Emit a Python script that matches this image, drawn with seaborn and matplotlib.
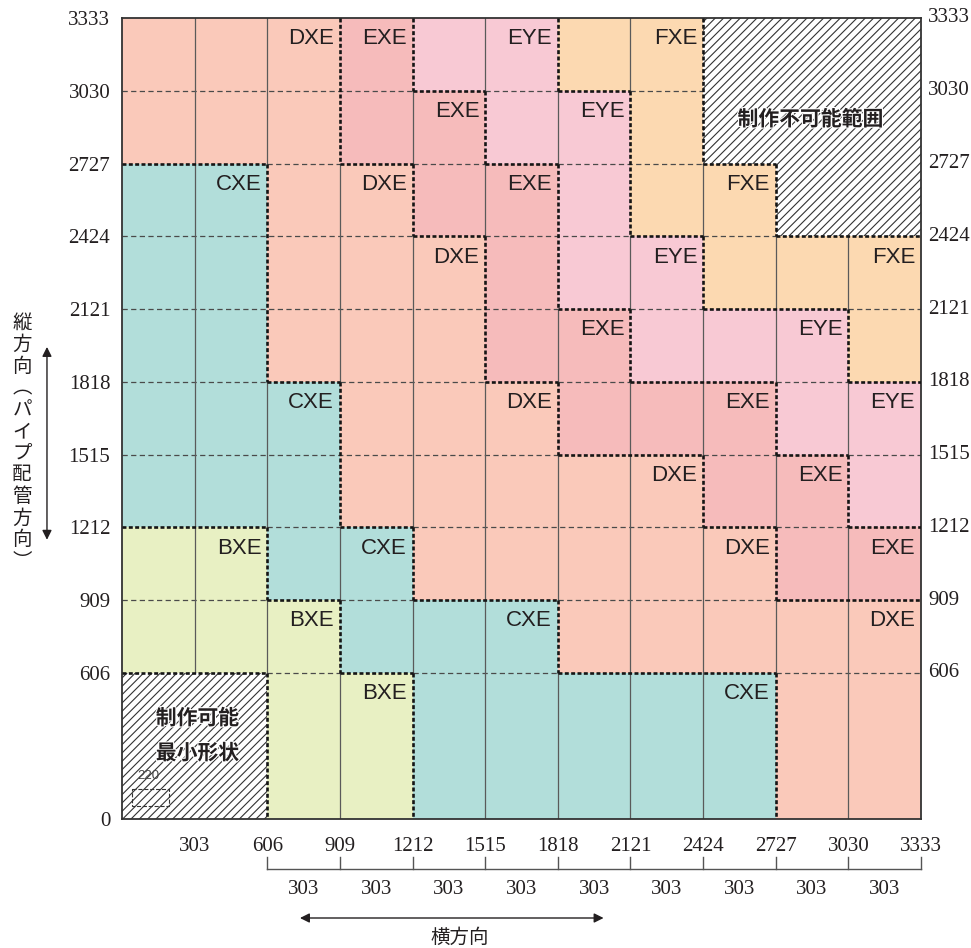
import numpy as np
import pandas as pd
import matplotlib
matplotlib.use('Agg')
import matplotlib.pyplot as plt
import matplotlib.patheffects as pe
from matplotlib.colors import ListedColormap
from matplotlib.patches import Rectangle
import seaborn as sns

# tick values (mm) along the bottom and the sides
x_ticks = [303, 606, 909, 1212, 1515, 1818, 2121, 2424, 2727, 3030, 3333]
y_ticks = [0, 606, 909, 1212, 1515, 1818, 2121, 2424, 2727, 3030, 3333]

# size chart, top band first, one letter per 303 mm column
# B=BXE C=CXE D=DXE E=EXE Y=EYE F=FXE X=cannot be made
grid_rows = [
    "DDDEYYFFXXX",   # 3030-3333
    "DDDEEYYFXXX",   # 2727-3030
    "CCDDEEYFFXX",   # 2424-2727
    "CCDDDEYYFFF",   # 2121-2424
    "CCDDDEEYYYF",   # 1818-2121
    "CCCDDDEEEYY",   # 1515-1818
    "CCCDDDDDEEY",   # 1212-1515
    "BBCCDDDDDEE",   # 909-1212
    "BBBCCCDDDDD",   # 606-909
    "XXBBCCCCCDD",   # 0-606
]

type_codes = ['B', 'C', 'D', 'E', 'Y', 'F', 'X']
type_names = ['BXE', 'CXE', 'DXE', 'EXE', 'EYE', 'FXE', '']
type_colors = ['#E8F0C3', '#B2DEDA', '#FAC9BA', '#F6BBBB', '#F8C9D4', '#FCD9B1', '#FFFFFF']

step = 303
y_top = y_ticks[-1]

plt.rcParams['font.family'] = ['Liberation Serif', 'Noto Sans CJK JP']
plt.rcParams['hatch.linewidth'] = 0.8
CJK = ['Noto Sans CJK JP', 'DejaVu Sans']
INK = '#231F20'

# expand the bands to one row per 303 mm so every cell is the same size
reps = (np.diff(y_ticks)[::-1] // step).tolist()
cells = np.array([list(row) for row, n in zip(grid_rows, reps) for _ in range(n)])
codes = np.vectorize(type_codes.index)(cells)
n_rows, n_cols = cells.shape

fig = plt.figure(figsize=(9.71, 9.48), dpi=100)
ax = fig.add_axes([122 / 971, 129.5 / 948, 799 / 971, 800.5 / 948])

sns.heatmap(pd.DataFrame(codes), cmap=ListedColormap(type_colors), vmin=-0.5,
            vmax=len(type_codes) - 0.5, cbar=False, xticklabels=False,
            yticklabels=False, linewidths=0, ax=ax)

# hatched "not possible" cells
for r in range(n_rows):
    for c in range(n_cols):
        if cells[r, c] == 'X':
            ax.add_patch(Rectangle((c, r), 1, 1, facecolor='none', edgecolor='#333333',
                                   lw=0, hatch='////', zorder=1.5))

styles = {
    'grid_h': dict(color='#4a4a4a', lw=0.9, ls=(0, (4.2, 2.7)), zorder=2),
    'grid_v': dict(color='#5a5a5a', lw=0.9, ls='-', zorder=2),
    'bound': dict(color='#151515', lw=1.9, ls=(0, (1.5, 0.9)), zorder=3),
}


def edge_kind(a, b, split=False):
    if a != b:
        return 'bound'
    if a == 'X' or split:
        return None
    return 'grid'


def draw_runs(kinds, fixed, horizontal):
    start = 0
    for k in range(1, len(kinds) + 1):
        if k == len(kinds) or kinds[k] != kinds[start]:
            kind = kinds[start]
            if kind is not None:
                key = kind if kind == 'bound' else ('grid_h' if horizontal else 'grid_v')
                if horizontal:
                    ax.plot([start, k], [fixed, fixed], **styles[key])
                else:
                    ax.plot([fixed, fixed], [start, k], **styles[key])
            start = k


# horizontal lines between rows
for i in range(1, n_rows):
    split = (y_top - i * step) not in y_ticks
    kinds = [edge_kind(cells[i - 1, c], cells[i, c], split) for c in range(n_cols)]
    draw_runs(kinds, i, True)

# vertical lines between columns
for j in range(1, n_cols):
    kinds = [edge_kind(cells[r, j - 1], cells[r, j]) for r in range(n_rows)]
    draw_runs(kinds, j, False)

# type labels at the top-right cell of each step
for r in range(n_rows):
    for c in range(n_cols):
        t = cells[r, c]
        if t == 'X':
            continue
        right_diff = c == n_cols - 1 or cells[r, c + 1] != t
        top_diff = r == 0 or cells[r - 1, c] != t
        if right_diff and top_diff:
            ax.text(c + 1 - 0.08, r + 0.36, type_names[type_codes.index(t)],
                    ha='right', va='baseline', fontsize=16, color=INK,
                    family='Liberation Sans', zorder=4)

halo = [pe.withStroke(linewidth=1.6, foreground='white')]
ax.text(9.48, 1.39, '制作不可能範囲', ha='center', va='center', fontsize=15,
        fontweight='bold', family=CJK, color=INK, path_effects=halo, zorder=4)
ax.text(1.04, 9.62, '制作可能', ha='center', va='center', fontsize=15,
        fontweight='bold', family=CJK, color=INK, path_effects=halo, zorder=4)
ax.text(1.04, 10.10, '最小形状', ha='center', va='center', fontsize=15,
        fontweight='bold', family=CJK, color=INK, path_effects=halo, zorder=4)
ax.text(0.36, 10.42, '220', ha='center', va='center', fontsize=9.5,
        family='Liberation Sans', color='#444444', zorder=4)
ax.add_patch(Rectangle((0.14, 10.60), 0.51, 0.23, fill=False, ls='--', lw=0.8,
                       ec='#333333', zorder=4))

# ticks and frame
ax.set_xticks([v / step for v in x_ticks])
ax.set_xticklabels([str(v) for v in x_ticks], fontsize=15, family='Liberation Serif')
ax.set_yticks([(y_top - v) / step for v in y_ticks])
ax.set_yticklabels([str(v) for v in y_ticks], fontsize=15, family='Liberation Serif')
ax.tick_params(axis='x', length=0, pad=13, colors=INK)
ax.tick_params(axis='y', length=0, pad=8.5, colors=INK, rotation=0)
for v in y_ticks[1:]:
    ax.text(1.009, (y_top - v) / step, str(v), transform=ax.get_yaxis_transform(),
            ha='left', va='center', fontsize=15, family='Liberation Serif', color=INK)
for s in ax.spines.values():
    s.set_visible(True)
    s.set_color('#333333')
    s.set_linewidth(1.3)

# width bracket under the columns
xt = ax.get_xaxis_transform()
bx = [v / step for v in x_ticks[1:]]
ax.plot([bx[0], bx[-1]], [-0.0631, -0.0631], color='#555555', lw=1, transform=xt, clip_on=False)
for x in bx:
    ax.plot([x, x], [-0.0481, -0.0631], color='#555555', lw=1, transform=xt, clip_on=False)
for a, b, w in zip(bx[:-1], bx[1:], np.diff(x_ticks[1:])):
    ax.text((a + b) / 2, -0.0893, str(w), transform=xt, ha='center', va='center',
            fontsize=15, family='Liberation Serif', color=INK)

arrow = dict(arrowstyle='<|-|>', color=INK, lw=1.0, mutation_scale=14,
             shrinkA=0, shrinkB=0)
ax.annotate('', xy=(6.63, -0.1243), xytext=(2.45, -0.1243), xycoords=xt,
            arrowprops=arrow, annotation_clip=False)
ax.text(4.65, -0.148, '横方向', transform=xt, ha='center', va='center',
        fontsize=14, family=CJK, color=INK)

yt = ax.get_yaxis_transform()
ax.annotate('', xy=(-0.0939, 7.17), xytext=(-0.0939, 4.52), xycoords=yt,
            arrowprops=arrow, annotation_clip=False)
ax.text(-0.125, 5.83, '\n'.join('縦方向︵パイプ配管方向︶'), transform=yt,
        ha='center', va='center', fontsize=14, linespacing=1.04,
        family=CJK, color=INK)

fig.savefig('out.png', dpi=100)
